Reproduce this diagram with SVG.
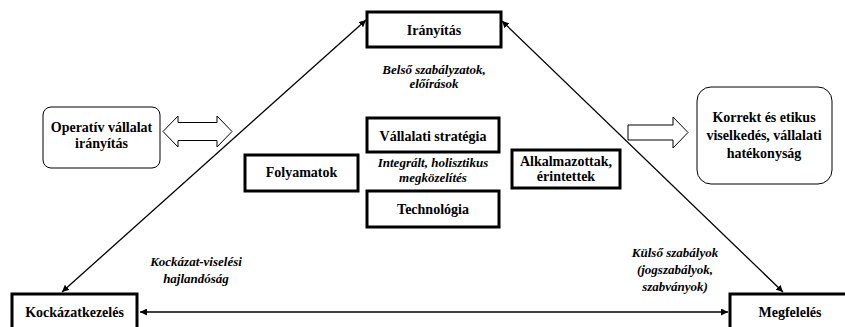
<svg xmlns="http://www.w3.org/2000/svg" width="845" height="327" viewBox="0 0 845 327">
  <style>
    .box { fill: #fff; stroke: #000; stroke-width: 3; }
    .soft { fill: #fff; stroke: #000; stroke-width: 1; }
    text { font-family: 'Liberation Serif', 'Times New Roman', Times, 'DejaVu Serif', serif; font-weight: bold; text-anchor: middle; fill: #000; }
    .t { font-size: 14px; }
    .i { font-style: italic; font-size: 13px; }
    .ln { stroke: #000; stroke-width: 1.3; fill: none; }
    .hollow { fill: #fff; stroke: #000; stroke-width: 1; }
  </style>
  <defs>
    <marker id="ah" viewBox="0 0 10 10" refX="10" refY="5" markerWidth="7" markerHeight="7" markerUnits="userSpaceOnUse" orient="auto-start-reverse">
      <path d="M0,0 L10,5 L0,10 Z" fill="#000"/>
    </marker>
  </defs>

  <rect width="845" height="327" fill="#fff"/>

  <!-- connectors of the triangle -->
  <g id="connectors">
    <line class="ln" x1="62" y1="292" x2="366" y2="20" marker-start="url(#ah)" marker-end="url(#ah)"/>
    <line class="ln" x1="502" y1="21" x2="783" y2="292" marker-start="url(#ah)" marker-end="url(#ah)"/>
    <line class="ln" x1="140" y1="312" x2="728" y2="312" marker-start="url(#ah)" marker-end="url(#ah)"/>
    <!-- hollow block arrows -->
    <path class="hollow" d="M163,131.5 L178,116 L178,122.5 L217,122.5 L217,116 L232,131.5 L217,147 L217,140.5 L178,140.5 L178,147 Z"/>
    <path class="hollow" d="M628,125 L673,125 L673,117 L688,132.5 L673,148 L673,140 L628,140 Z"/>
  </g>

  <g id="iranyitas">
    <rect class="box" x="367" y="12" width="134" height="35"/>
    <text class="t" x="434" y="34.5">Irányítás</text>
  </g>

  <g id="belso-szabalyzatok">
    <text class="i" x="434" y="74">Belső szabályzatok,</text>
    <text class="i" x="434" y="88">előírások</text>
  </g>

  <g id="operativ">
    <rect class="soft" x="43" y="107" width="117" height="61" rx="8"/>
    <text class="t" x="101.5" y="132">Operatív vállalat</text>
    <text class="t" x="101.5" y="148">irányítás</text>
  </g>

  <g id="korrekt">
    <rect class="soft" x="697" y="87" width="135" height="97" rx="14"/>
    <text class="t" x="764" y="122">Korrekt és etikus</text>
    <text class="t" x="764" y="140">viselkedés, vállalati</text>
    <text class="t" x="764" y="158">hatékonyság</text>
  </g>

  <g id="strategia">
    <rect class="box" x="367" y="118" width="132" height="34"/>
    <text class="t" x="433" y="140.5">Vállalati stratégia</text>
  </g>

  <g id="folyamatok">
    <rect class="box" x="245" y="155" width="113" height="36"/>
    <text class="t" x="301.5" y="177">Folyamatok</text>
  </g>

  <g id="integralt">
    <text class="i" x="433" y="167">Integrált, holisztikus</text>
    <text class="i" x="433" y="182">megközelítés</text>
  </g>

  <g id="technologia">
    <rect class="box" x="367" y="191" width="132" height="36"/>
    <text class="t" x="433" y="214">Technológia</text>
  </g>

  <g id="alkalmazottak">
    <rect class="box" x="512" y="150" width="108" height="38"/>
    <text class="t" x="566" y="166">Alkalmazottak,</text>
    <text class="t" x="566" y="181">érintettek</text>
  </g>

  <g id="kockazat-viselesi">
    <text class="i" x="196" y="266">Kockázat-viselési</text>
    <text class="i" x="196" y="283">hajlandóság</text>
  </g>

  <g id="kulso-szabalyok">
    <text class="i" x="675" y="257">Külső szabályok</text>
    <text class="i" x="675" y="274">(jogszabályok,</text>
    <text class="i" x="675" y="291">szabványok)</text>
  </g>

  <g id="kockazatkezeles">
    <rect class="box" x="12" y="294" width="125" height="40"/>
    <text class="t" x="74.5" y="317">Kockázatkezelés</text>
  </g>

  <g id="megfeleles">
    <rect class="box" x="730" y="294" width="122" height="40"/>
    <text class="t" x="790" y="317">Megfelelés</text>
  </g>
</svg>
